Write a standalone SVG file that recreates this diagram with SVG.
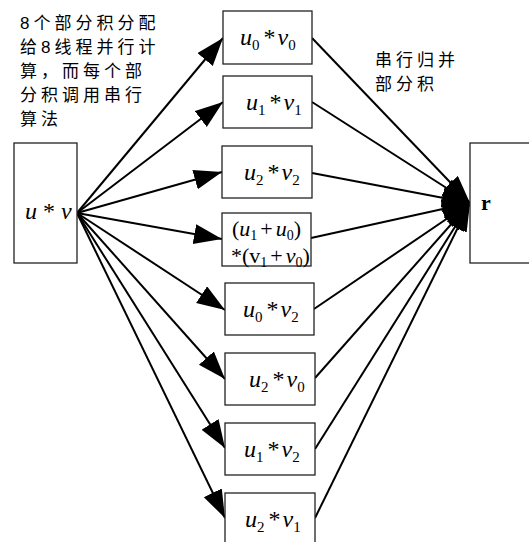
<svg xmlns="http://www.w3.org/2000/svg" width="529" height="542" viewBox="0 0 529 542">
<style>
.box{fill:#fff;stroke:#222;stroke-width:1.3}
.cjk{font-family:"Liberation Sans","Noto Sans CJK SC",sans-serif;font-size:17px;letter-spacing:4px;fill:#000}
.m{font-family:"Liberation Serif",serif;font-size:24px;fill:#000}
.m2{font-family:"Liberation Serif",serif;font-size:22px;fill:#000}
.i{font-style:italic}
.s{font-size:15px;font-style:normal}
.s2{font-size:14px;font-style:normal}
.ln{stroke:#000;stroke-width:2;fill:none}
.la{marker-end:url(#ah)}
</style>
<defs>
<marker id="ah" markerUnits="userSpaceOnUse" markerWidth="30" markerHeight="22" refX="28" refY="10" orient="auto">
<path d="M0,0 L28,10 L0,20 z" fill="#000"/>
</marker>
</defs>
<rect width="529" height="542" fill="#fff"/>
<g id="label-left">
<text class="cjk" x="20" y="29">8个部分积分配</text>
<text class="cjk" x="20" y="53">给8线程并行计</text>
<text class="cjk" x="20" y="77">算，而每个部</text>
<text class="cjk" x="20" y="101">分积调用串行</text>
<text class="cjk" x="20" y="125">算法</text>
</g>
<g id="label-right">
<text class="cjk" x="375" y="66">串行归并</text>
<text class="cjk" x="375" y="90">部分积</text>
</g>
<g id="connectors">
<line class="ln la" x1="77" y1="213" x2="223" y2="38"/>
<line class="ln la" x1="77" y1="213" x2="223" y2="102"/>
<line class="ln la" x1="77" y1="213" x2="222" y2="172"/>
<line class="ln la" x1="77" y1="213" x2="222" y2="239"/>
<line class="ln la" x1="77" y1="213" x2="225" y2="310"/>
<line class="ln la" x1="77" y1="213" x2="225" y2="379"/>
<line class="ln la" x1="77" y1="213" x2="225" y2="448"/>
<line class="ln la" x1="77" y1="213" x2="225" y2="518"/>
<line class="ln la" x1="312" y1="38" x2="470" y2="203"/>
<line class="ln la" x1="312" y1="102" x2="470" y2="203"/>
<line class="ln la" x1="312" y1="173" x2="470" y2="203"/>
<line class="ln la" x1="311" y1="238" x2="470" y2="203"/>
<line class="ln la" x1="314" y1="309" x2="470" y2="203"/>
<line class="ln la" x1="315" y1="378" x2="470" y2="203"/>
<line class="ln la" x1="315" y1="449" x2="470" y2="203"/>
<line class="ln la" x1="315" y1="518" x2="470" y2="203"/>
</g>
<g id="node-uv">
<rect class="box" x="14" y="143" width="63" height="120"/>
<text class="m" x="25" y="219"><tspan class="i">u</tspan><tspan> *</tspan><tspan class="i"> v</tspan></text>
</g>
<g id="node-r">
<rect class="box" x="470" y="143" width="70" height="120"/>
<text class="m" x="481" y="210" style="font-weight:bold;font-size:22px">r</text>
</g>
<g id="node-1">
<rect class="box" x="223" y="11" width="89" height="53"/>
<text class="m" x="240" y="45"><tspan class="i">u</tspan><tspan class="s" dy="5">0</tspan><tspan dy="-5" dx="4">*</tspan><tspan class="i" dx="2">v</tspan><tspan class="s" dy="5">0</tspan></text>
</g>
<g id="node-2">
<rect class="box" x="223" y="76" width="89" height="52"/>
<text class="m" x="246" y="110"><tspan class="i">u</tspan><tspan class="s" dy="5">1</tspan><tspan dy="-5" dx="4">*</tspan><tspan class="i" dx="2">v</tspan><tspan class="s" dy="5">1</tspan></text>
</g>
<g id="node-3">
<rect class="box" x="222" y="146" width="90" height="52"/>
<text class="m" x="244" y="180"><tspan class="i">u</tspan><tspan class="s" dy="5">2</tspan><tspan dy="-5" dx="4">*</tspan><tspan class="i" dx="2">v</tspan><tspan class="s" dy="5">2</tspan></text>
</g>
<g id="node-4">
<rect class="box" x="222" y="213" width="89" height="53"/>
<text class="m2" x="232" y="236">(<tspan class="i">u</tspan><tspan class="s2" dy="4">1</tspan><tspan dy="-4" dx="3">+</tspan><tspan class="i" dx="3">u</tspan><tspan class="s2" dy="4">0</tspan><tspan dy="-4">)</tspan></text>
<text class="m2" x="231" y="263">*(v<tspan class="s2" dy="4">1</tspan><tspan dy="-4" dx="3">+</tspan><tspan class="i" dx="3">v</tspan><tspan class="s2" dy="4">0</tspan><tspan dy="-4">)</tspan></text>
</g>
<g id="node-5">
<rect class="box" x="225" y="283" width="89" height="52"/>
<text class="m" x="243" y="317"><tspan class="i">u</tspan><tspan class="s" dy="5">0</tspan><tspan dy="-5" dx="4">*</tspan><tspan class="i" dx="2">v</tspan><tspan class="s" dy="5">2</tspan></text>
</g>
<g id="node-6">
<rect class="box" x="225" y="353" width="90" height="52"/>
<text class="m" x="249" y="387"><tspan class="i">u</tspan><tspan class="s" dy="5">2</tspan><tspan dy="-5" dx="4">*</tspan><tspan class="i" dx="2">v</tspan><tspan class="s" dy="5">0</tspan></text>
</g>
<g id="node-7">
<rect class="box" x="225" y="423" width="90" height="52"/>
<text class="m" x="244" y="457"><tspan class="i">u</tspan><tspan class="s" dy="5">1</tspan><tspan dy="-5" dx="4">*</tspan><tspan class="i" dx="2">v</tspan><tspan class="s" dy="5">2</tspan></text>
</g>
<g id="node-8">
<rect class="box" x="225" y="493" width="90" height="60"/>
<text class="m" x="245" y="527"><tspan class="i">u</tspan><tspan class="s" dy="5">2</tspan><tspan dy="-5" dx="4">*</tspan><tspan class="i" dx="2">v</tspan><tspan class="s" dy="5">1</tspan></text>
</g>
</svg>
